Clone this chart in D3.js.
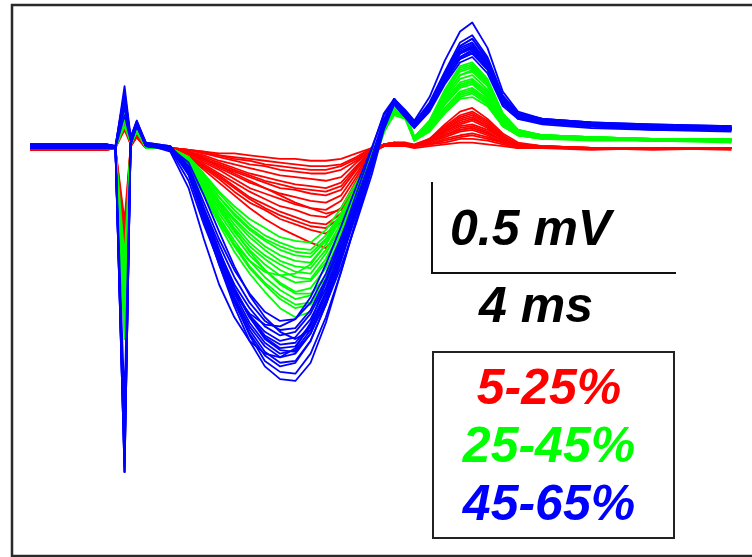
<!DOCTYPE html>
<html>
<head>
<meta charset="utf-8">
<script src="https://cdn.jsdelivr.net/npm/d3@7"></script>
<style>
  html, body { margin: 0; padding: 0; background: #fff; }
  svg { display: block; }
</style>
</head>
<body>
<svg id="chart" width="752" height="557"></svg>
<script>
// ---- Data (time in ms, potential in mV) ----
const timesMs = [0, 1.25, 1.4, 1.55, 1.65, 1.75, 1.9, 2.3, 2.6, 2.85, 3.1, 3.35, 3.6, 3.85, 4.1, 4.35, 4.6, 4.85, 5.1, 5.35, 5.6, 5.8, 5.97, 6.15, 6.3, 6.55, 6.8, 7.05, 7.25, 7.5, 7.75, 8.0, 8.4, 9.2, 10.2, 11.5];

const groupLabels = ["5-25%", "25-45%", "45-65%"];
const groupColors = ["#ff0000", "#00ff00", "#0000ff"];

const redTraces = [
  [0.0,0.0,0.0,0.21,0.02,0.08,0.0,0.0,-0.01,-0.02,-0.03,-0.03,-0.04,-0.05,-0.06,-0.06,-0.07,-0.07,-0.06,-0.03,0.0,0.01,0.01,0.01,0.0,0.01,0.02,0.03,0.03,0.02,0.01,0.0,0.0,0.0,0.0,0.0],
  [-0.01,-0.01,0.0,-0.75,0.01,0.07,0.0,0.0,-0.01,-0.02,-0.04,-0.05,-0.06,-0.07,-0.08,-0.09,-0.10,-0.10,-0.09,-0.05,0.0,0.01,0.02,0.02,0.01,0.02,0.03,0.05,0.05,0.04,0.02,0.0,0.0,-0.01,0.0,0.0],
  [0.0,0.0,0.0,0.12,0.02,0.08,0.01,0.0,-0.01,-0.03,-0.05,-0.07,-0.09,-0.10,-0.12,-0.13,-0.14,-0.14,-0.12,-0.07,-0.01,0.01,0.02,0.02,0.01,0.02,0.05,0.07,0.08,0.06,0.03,0.01,0.0,0.0,0.0,0.0],
  [0.0,0.0,0.0,-0.50,0.01,0.06,0.0,0.0,-0.02,-0.04,-0.07,-0.09,-0.11,-0.13,-0.15,-0.16,-0.17,-0.18,-0.16,-0.08,-0.01,0.02,0.02,0.02,0.01,0.03,0.06,0.09,0.10,0.07,0.03,0.01,0.0,0.0,-0.01,0.0],
  [-0.01,-0.01,0.0,0.18,0.02,0.09,0.01,0.0,-0.02,-0.05,-0.08,-0.11,-0.14,-0.16,-0.18,-0.20,-0.21,-0.22,-0.19,-0.10,-0.01,0.01,0.02,0.02,0.01,0.03,0.07,0.10,0.11,0.08,0.04,0.01,0.0,0.0,0.0,0.0],
  [0.0,0.0,0.0,-0.85,0.01,0.07,0.0,0.0,-0.03,-0.06,-0.10,-0.13,-0.16,-0.19,-0.22,-0.23,-0.25,-0.26,-0.23,-0.12,-0.02,0.01,0.02,0.02,0.01,0.03,0.07,0.11,0.12,0.09,0.04,0.01,0.0,0.0,0.0,-0.01],
  [0.0,0.0,0.0,0.10,0.02,0.08,0.01,0.0,-0.03,-0.07,-0.11,-0.15,-0.19,-0.22,-0.25,-0.27,-0.29,-0.30,-0.26,-0.14,-0.02,0.01,0.02,0.02,0.01,0.03,0.08,0.12,0.13,0.10,0.05,0.01,0.0,0.0,0.0,0.0],
  [-0.01,-0.01,0.0,-0.60,0.01,0.07,0.0,0.0,-0.03,-0.08,-0.12,-0.17,-0.22,-0.25,-0.28,-0.31,-0.33,-0.34,-0.29,-0.16,-0.02,0.02,0.02,0.02,0.01,0.04,0.09,0.13,0.15,0.11,0.05,0.02,0.0,0.0,0.0,0.0],
  [0.0,0.0,0.0,0.20,0.02,0.09,0.01,0.0,-0.04,-0.09,-0.14,-0.19,-0.24,-0.28,-0.32,-0.34,-0.37,-0.38,-0.33,-0.18,-0.03,0.01,0.02,0.02,0.01,0.04,0.10,0.15,0.17,0.12,0.06,0.02,0.01,0.0,0.0,0.0],
  [0.0,0.0,0.0,-0.40,0.01,0.06,0.0,0.0,-0.04,-0.10,-0.15,-0.21,-0.27,-0.31,-0.35,-0.38,-0.41,-0.42,-0.36,-0.20,-0.03,0.02,0.03,0.02,0.01,0.04,0.10,0.16,0.18,0.13,0.06,0.02,0.01,0.0,0.0,0.0],
  [-0.01,-0.01,0.0,0.15,0.02,0.08,0.01,0.0,-0.05,-0.11,-0.17,-0.24,-0.30,-0.34,-0.39,-0.42,-0.45,-0.47,-0.41,-0.22,-0.03,0.02,0.03,0.03,0.01,0.05,0.12,0.18,0.20,0.15,0.07,0.02,0.01,0.0,0.0,0.0],
  [0.0,0.0,0.0,-0.70,0.01,0.07,0.0,0.0,-0.05,-0.12,-0.19,-0.26,-0.33,-0.39,-0.44,-0.48,-0.52,-0.55,-0.45,-0.25,-0.03,0.02,0.03,0.03,0.02,0.05,0.13,0.20,0.22,0.16,0.08,0.03,0.01,0.0,0.0,0.0],
  [0.0,0.0,0.0,0.16,0.02,0.08,0.01,0.0,-0.03,-0.06,-0.09,-0.12,-0.15,-0.18,-0.20,-0.22,-0.23,-0.24,-0.21,-0.11,-0.01,0.02,0.02,0.02,0.01,0.03,0.07,0.10,0.11,0.08,0.04,0.01,0.0,0.0,0.0,0.0],
  [0.0,0.0,0.0,-0.55,0.01,0.07,0.0,0.0,-0.02,-0.06,-0.10,-0.14,-0.18,-0.22,-0.26,-0.30,-0.33,-0.36,-0.34,-0.20,-0.03,0.02,0.03,0.02,0.01,0.04,0.09,0.14,0.16,0.12,0.05,0.02,0.0,0.0,0.0,0.0],
  [0.0,0.0,0.0,0.14,0.02,0.08,0.01,0.0,-0.01,-0.03,-0.04,-0.06,-0.07,-0.09,-0.10,-0.11,-0.12,-0.12,-0.10,-0.06,0.0,0.01,0.02,0.02,0.01,0.02,0.04,0.06,0.07,0.05,0.03,0.01,0.0,0.0,0.0,0.0],
  [0.0,0.0,0.0,-0.45,0.01,0.06,0.0,0.0,-0.04,-0.10,-0.16,-0.22,-0.28,-0.33,-0.37,-0.40,-0.43,-0.44,-0.38,-0.21,-0.03,0.02,0.03,0.03,0.01,0.05,0.11,0.17,0.19,0.14,0.06,0.02,0.01,0.0,0.0,0.0]
];

const greenTraces = [
  [0.0,0.0,0.0,0.22,0.03,0.10,0.01,0.0,-0.05,-0.14,-0.24,-0.32,-0.39,-0.44,-0.49,-0.51,-0.52,-0.45,-0.33,-0.19,-0.05,0.09,0.18,0.16,0.04,0.09,0.19,0.27,0.28,0.23,0.12,0.07,0.05,0.05,0.04,0.04],
  [0.01,0.01,0.0,-0.90,0.02,0.09,0.01,0.0,-0.05,-0.15,-0.25,-0.34,-0.42,-0.48,-0.52,-0.55,-0.56,-0.48,-0.36,-0.21,-0.06,0.10,0.19,0.17,0.05,0.10,0.20,0.28,0.30,0.24,0.12,0.07,0.05,0.04,0.04,0.03],
  [0.0,0.0,0.0,0.18,0.03,0.10,0.01,0.0,-0.06,-0.16,-0.27,-0.37,-0.45,-0.51,-0.56,-0.59,-0.60,-0.51,-0.38,-0.22,-0.06,0.10,0.20,0.17,0.05,0.10,0.22,0.30,0.32,0.26,0.13,0.07,0.06,0.05,0.04,0.04],
  [0.0,0.0,0.0,-1.05,0.02,0.09,0.0,0.0,-0.06,-0.17,-0.29,-0.39,-0.47,-0.54,-0.59,-0.62,-0.63,-0.53,-0.39,-0.24,-0.07,0.09,0.19,0.18,0.04,0.11,0.22,0.31,0.33,0.27,0.13,0.07,0.06,0.05,0.05,0.04],
  [0.01,0.01,0.01,0.20,0.03,0.11,0.02,0.0,-0.06,-0.18,-0.30,-0.40,-0.49,-0.56,-0.62,-0.65,-0.66,-0.56,-0.41,-0.25,-0.07,0.10,0.20,0.18,0.05,0.11,0.24,0.33,0.35,0.28,0.14,0.08,0.06,0.05,0.04,0.04],
  [0.0,0.0,0.0,-0.60,0.02,0.09,0.01,0.0,-0.06,-0.18,-0.31,-0.42,-0.52,-0.59,-0.64,-0.68,-0.69,-0.58,-0.43,-0.26,-0.07,0.10,0.21,0.18,0.05,0.12,0.24,0.34,0.36,0.29,0.15,0.08,0.06,0.05,0.05,0.04],
  [0.0,0.0,0.0,0.15,0.03,0.10,0.01,0.0,-0.07,-0.19,-0.33,-0.44,-0.54,-0.61,-0.67,-0.71,-0.72,-0.61,-0.45,-0.27,-0.08,0.10,0.20,0.18,0.05,0.12,0.26,0.36,0.38,0.31,0.15,0.08,0.06,0.05,0.04,0.04],
  [0.01,0.01,0.0,-0.95,0.02,0.10,0.01,0.0,-0.07,-0.20,-0.34,-0.46,-0.56,-0.64,-0.70,-0.74,-0.73,-0.63,-0.47,-0.28,-0.08,0.10,0.20,0.18,0.05,0.13,0.27,0.38,0.40,0.32,0.16,0.09,0.07,0.05,0.05,0.04],
  [0.0,0.0,0.0,0.21,0.03,0.11,0.01,0.0,-0.07,-0.21,-0.36,-0.48,-0.59,-0.67,-0.74,-0.79,-0.77,-0.66,-0.49,-0.29,-0.08,0.11,0.21,0.19,0.06,0.14,0.28,0.40,0.42,0.34,0.17,0.09,0.07,0.06,0.05,0.04],
  [0.0,0.0,0.0,-0.80,0.02,0.09,0.01,0.0,-0.08,-0.22,-0.38,-0.51,-0.62,-0.71,-0.78,-0.83,-0.81,-0.70,-0.52,-0.31,-0.09,0.10,0.21,0.19,0.05,0.14,0.30,0.42,0.44,0.36,0.18,0.09,0.07,0.06,0.05,0.05],
  [0.01,0.01,0.0,0.12,0.03,0.10,0.01,0.0,-0.08,-0.23,-0.40,-0.54,-0.66,-0.75,-0.83,-0.88,-0.86,-0.74,-0.55,-0.33,-0.09,0.10,0.22,0.20,0.06,0.15,0.31,0.44,0.46,0.37,0.19,0.10,0.07,0.06,0.05,0.05],
  [0.0,0.0,0.0,-1.00,0.02,0.10,0.01,0.0,-0.09,-0.25,-0.42,-0.57,-0.69,-0.79,-0.88,-0.93,-0.90,-0.78,-0.58,-0.35,-0.10,0.10,0.22,0.20,0.06,0.15,0.32,0.45,0.47,0.38,0.19,0.10,0.07,0.06,0.05,0.05],
  [0.0,0.0,0.0,0.19,0.03,0.10,0.01,-0.01,-0.10,-0.26,-0.41,-0.53,-0.62,-0.68,-0.70,-0.69,-0.64,-0.53,-0.38,-0.21,-0.03,0.12,0.21,0.18,0.05,0.12,0.25,0.35,0.37,0.30,0.15,0.08,0.06,0.05,0.04,0.04],
  [0.01,0.01,0.0,-0.85,0.02,0.09,0.01,0.0,-0.05,-0.17,-0.31,-0.45,-0.57,-0.67,-0.75,-0.80,-0.80,-0.72,-0.56,-0.35,-0.11,0.08,0.20,0.19,0.05,0.14,0.29,0.40,0.43,0.35,0.18,0.09,0.07,0.06,0.05,0.04],
  [0.0,0.0,0.0,0.17,0.03,0.10,0.01,0.0,-0.06,-0.16,-0.27,-0.36,-0.44,-0.50,-0.54,-0.57,-0.58,-0.50,-0.37,-0.21,-0.06,0.10,0.19,0.17,0.04,0.10,0.21,0.29,0.31,0.25,0.12,0.07,0.05,0.05,0.04,0.04],
  [0.0,0.0,0.0,-0.70,0.02,0.10,0.01,0.0,-0.08,-0.23,-0.39,-0.53,-0.65,-0.74,-0.81,-0.86,-0.85,-0.73,-0.54,-0.32,-0.09,0.10,0.21,0.19,0.06,0.14,0.30,0.43,0.45,0.36,0.18,0.10,0.07,0.06,0.05,0.05]
];

const blueTraces = [
  [0.01,0.01,0.0,0.34,0.06,0.15,0.02,0.0,-0.10,-0.30,-0.50,-0.67,-0.80,-0.90,-0.95,-0.94,-0.85,-0.69,-0.49,-0.28,-0.05,0.16,0.25,0.17,0.11,0.20,0.35,0.47,0.50,0.41,0.23,0.16,0.13,0.11,0.10,0.09],
  [0.02,0.02,0.01,-1.78,0.03,0.13,0.01,0.0,-0.11,-0.33,-0.53,-0.71,-0.85,-0.95,-1.00,-0.99,-0.89,-0.72,-0.51,-0.29,-0.06,0.15,0.27,0.19,0.13,0.22,0.37,0.49,0.52,0.43,0.24,0.17,0.14,0.12,0.11,0.11],
  [0.0,0.0,0.0,0.28,0.05,0.14,0.02,-0.01,-0.13,-0.36,-0.57,-0.75,-0.88,-0.98,-1.03,-1.01,-0.91,-0.74,-0.53,-0.31,-0.07,0.14,0.25,0.18,0.12,0.21,0.37,0.50,0.53,0.44,0.25,0.16,0.14,0.12,0.10,0.10],
  [0.01,0.01,0.0,-1.75,0.02,0.12,0.01,0.0,-0.14,-0.38,-0.60,-0.78,-0.92,-1.01,-1.06,-1.04,-0.94,-0.77,-0.55,-0.32,-0.08,0.14,0.26,0.19,0.13,0.23,0.39,0.52,0.55,0.46,0.26,0.18,0.15,0.13,0.12,0.11],
  [0.02,0.02,0.01,0.22,0.06,0.13,0.02,0.0,-0.12,-0.35,-0.57,-0.77,-0.92,-1.03,-1.08,-1.07,-0.97,-0.79,-0.57,-0.34,-0.10,0.13,0.24,0.17,0.11,0.21,0.38,0.52,0.55,0.45,0.26,0.17,0.14,0.12,0.11,0.10],
  [0.0,0.0,0.0,-1.60,0.03,0.14,0.02,0.0,-0.12,-0.36,-0.58,-0.78,-0.93,-1.04,-1.10,-1.09,-0.98,-0.80,-0.57,-0.33,-0.08,0.15,0.26,0.18,0.12,0.22,0.38,0.52,0.56,0.45,0.25,0.17,0.14,0.12,0.11,0.10],
  [0.01,0.01,0.01,0.30,0.05,0.15,0.03,0.01,-0.10,-0.33,-0.56,-0.77,-0.93,-1.05,-1.11,-1.12,-1.02,-0.84,-0.61,-0.36,-0.10,0.13,0.25,0.19,0.14,0.24,0.40,0.54,0.57,0.46,0.27,0.18,0.15,0.13,0.12,0.11],
  [0.02,0.02,0.01,-1.78,0.02,0.13,0.01,0.0,-0.14,-0.39,-0.62,-0.82,-0.98,-1.09,-1.15,-1.13,-1.02,-0.83,-0.59,-0.34,-0.08,0.14,0.27,0.20,0.14,0.24,0.40,0.55,0.58,0.47,0.27,0.18,0.15,0.13,0.12,0.12],
  [0.0,0.0,0.0,0.18,0.04,0.12,0.02,0.0,-0.13,-0.38,-0.62,-0.83,-1.00,-1.12,-1.18,-1.17,-1.06,-0.86,-0.62,-0.36,-0.10,0.13,0.26,0.19,0.13,0.24,0.41,0.56,0.60,0.49,0.28,0.19,0.16,0.14,0.12,0.11],
  [0.01,0.01,0.0,-1.40,0.03,0.14,0.02,0.0,-0.15,-0.40,-0.64,-0.85,-1.02,-1.14,-1.20,-1.18,-1.06,-0.86,-0.61,-0.35,-0.09,0.14,0.27,0.20,0.14,0.25,0.42,0.58,0.62,0.50,0.29,0.19,0.16,0.14,0.13,0.12],
  [0.02,0.02,0.01,0.25,0.06,0.14,0.03,0.01,-0.11,-0.36,-0.61,-0.84,-1.03,-1.17,-1.23,-1.24,-1.13,-0.93,-0.68,-0.40,-0.12,0.12,0.24,0.17,0.12,0.22,0.38,0.52,0.55,0.46,0.27,0.18,0.15,0.13,0.12,0.11],
  [0.01,0.01,0.0,-1.70,0.02,0.13,0.01,0.0,-0.12,-0.38,-0.64,-0.87,-1.06,-1.20,-1.27,-1.28,-1.18,-0.96,-0.68,-0.39,-0.10,0.14,0.27,0.21,0.15,0.28,0.48,0.64,0.69,0.55,0.31,0.20,0.16,0.14,0.13,0.12],
  [0.0,0.0,0.0,0.26,0.05,0.14,0.02,-0.02,-0.22,-0.50,-0.75,-0.93,-1.06,-1.13,-1.15,-1.10,-0.96,-0.74,-0.50,-0.25,-0.01,0.19,0.27,0.18,0.12,0.22,0.39,0.53,0.56,0.45,0.26,0.17,0.14,0.12,0.11,0.10],
  [0.01,0.01,0.0,-1.65,0.03,0.13,0.02,0.0,-0.08,-0.26,-0.46,-0.65,-0.81,-0.93,-1.01,-1.05,-1.00,-0.86,-0.65,-0.41,-0.15,0.10,0.24,0.19,0.13,0.22,0.37,0.50,0.54,0.45,0.26,0.18,0.15,0.13,0.12,0.11],
  [0.02,0.02,0.01,0.31,0.05,0.14,0.02,0.0,-0.13,-0.37,-0.60,-0.80,-0.96,-1.07,-1.13,-1.11,-1.00,-0.81,-0.58,-0.34,-0.09,0.14,0.26,0.19,0.13,0.23,0.41,0.56,0.60,0.48,0.28,0.18,0.15,0.13,0.12,0.11],
  [0.01,0.01,0.0,-1.78,0.02,0.12,0.01,-0.01,-0.18,-0.42,-0.63,-0.80,-0.91,-0.97,-0.98,-0.94,-0.82,-0.64,-0.43,-0.21,0.0,0.18,0.26,0.18,0.12,0.21,0.36,0.49,0.52,0.43,0.25,0.17,0.14,0.12,0.11,0.10]
];

const scaleBarMv = 0.5;
const scaleBarMs = 4;
const scaleBarLabels = ["0.5 mV", "4 ms"];

// ---- Drawing ----
const svg = d3.select("#chart");

const x = d3.scaleLinear().domain([0, 11.5]).range([30, 731.5]);
const y = d3.scaleLinear().domain([-1.78, 0.34]).range([148 + 1.78 * 182, 148 - 0.34 * 182]);

// frame
svg.append("rect")
  .attr("x", 12).attr("y", 5)
  .attr("width", 760).attr("height", 551)
  .attr("fill", "none").attr("stroke", "#2a2a2a").attr("stroke-width", 2.5);

const line = d3.line()
  .x((d, i) => x(timesMs[i]))
  .y(d => y(d));

const groups = [redTraces, greenTraces, blueTraces];
groups.forEach((traces, gi) => {
  svg.append("g")
    .selectAll("path")
    .data(traces)
    .join("path")
    .attr("d", line)
    .attr("fill", "none")
    .attr("stroke", groupColors[gi])
    .attr("stroke-width", 1.8)
    .attr("stroke-linejoin", "round");
});

// scale bar
const barX0 = 432, barY0 = 273;
const barLenY = y(0) - y(scaleBarMv);
const barLenX = x(scaleBarMs) - x(0);
svg.append("path")
  .attr("d", `M${barX0},${barY0 - barLenY}V${barY0}H${barX0 + barLenX}`)
  .attr("fill", "none").attr("stroke", "#111").attr("stroke-width", 2);

const fontFam = "'Liberation Sans', Arial, Helvetica, sans-serif";
svg.append("text")
  .attr("x", 450).attr("y", 245)
  .attr("font-family", fontFam).attr("font-weight", "bold").attr("font-style", "italic")
  .attr("font-size", 50).attr("fill", "#000")
  .text(scaleBarLabels[0]);
svg.append("text")
  .attr("x", 479).attr("y", 322)
  .attr("font-family", fontFam).attr("font-weight", "bold").attr("font-style", "italic")
  .attr("font-size", 50).attr("fill", "#000")
  .text(scaleBarLabels[1]);

// legend
svg.append("rect")
  .attr("x", 433).attr("y", 352).attr("width", 241).attr("height", 186)
  .attr("fill", "#fff").attr("stroke", "#222").attr("stroke-width", 2);
const legendY = [404, 462, 520];
groupLabels.forEach((lab, i) => {
  svg.append("text")
    .attr("x", 549).attr("y", legendY[i])
    .attr("text-anchor", "middle")
    .attr("font-family", fontFam).attr("font-weight", "bold").attr("font-style", "italic")
    .attr("font-size", 50).attr("fill", groupColors[i])
    .text(lab);
});
</script>
</body>
</html>
